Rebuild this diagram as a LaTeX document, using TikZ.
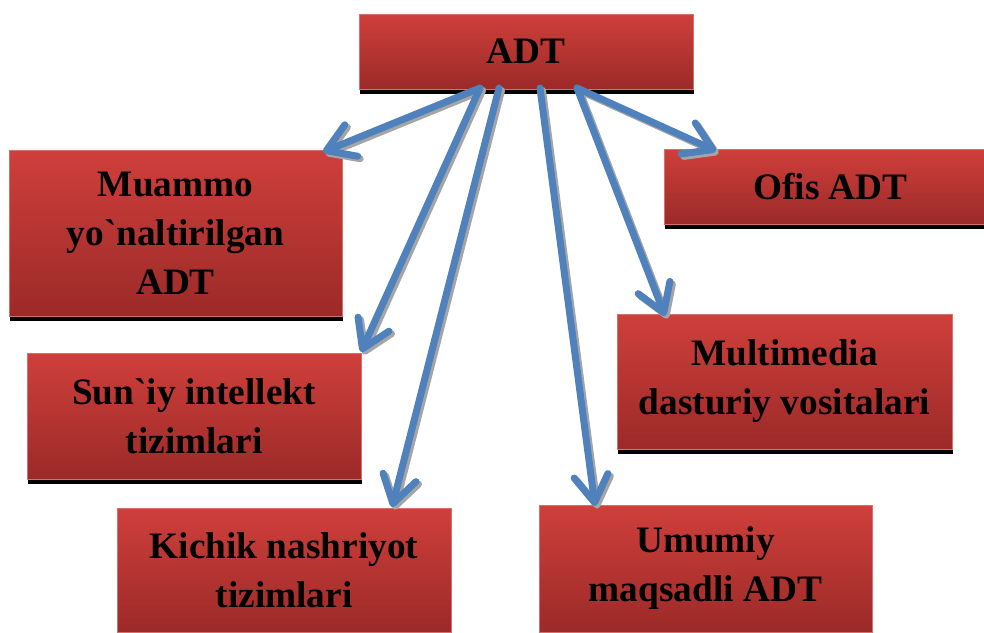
\documentclass[tikz,border=0pt]{standalone}
\usepackage{fontspec}
\setmainfont{Liberation Serif}[Ligatures=TeXOff]
\usetikzlibrary{arrows.meta,calc}
\definecolor{redtop}{RGB}{207,63,59}
\definecolor{redbot}{RGB}{155,42,40}
\definecolor{redline}{RGB}{214,112,108}
\definecolor{arrblue}{RGB}{79,129,189}
\definecolor{arrshadow}{RGB}{165,165,165}
\tikzset{
  box/.style={rectangle, top color=redtop, bottom color=redbot, draw=redline,
    line width=1pt, inner sep=0pt, align=center,
    font=\fontsize{37.3}{49}\selectfont\bfseries, text=black},
  conn/.style={draw=arrblue, line width=7pt, line cap=round, line join=round,
    -{Straight Barb[length=27pt,width=34pt,round]}},
  connshadow/.style={conn, draw=arrshadow, transform canvas={shift={(2.5pt,-2.5pt)}}}
}
\begin{document}
\begin{tikzpicture}[x=1pt,y=-1pt]
\useasboundingbox (0,0) rectangle (984,632);
\node[box, minimum width=334pt, minimum height=75pt] (adt) at (526,51.5) {ADT};
\node[box, minimum width=333pt, minimum height=166pt] (muammo) at (175.5,233) {Muammo\\yo`naltirilgan\\ADT};
\node[box, minimum width=333pt, minimum height=75pt] (ofis) at (830.5,186.5) {Ofis ADT};
\node[box, minimum width=334pt, minimum height=126pt] (suniy) at (194,416) {Sun`iy intellekt\\tizimlari};
\node[box, minimum width=335pt, minimum height=135pt] (multi) at (784.5,381.5) {Multimedia\\dasturiy vositalari};
\node[box, minimum width=334pt, minimum height=124pt] (kichik) at (284,570) {Kichik nashriyot\\tizimlari};
\node[box, minimum width=333pt, minimum height=127pt] (umumiy) at (705.5,568.5) {Umumiy\\maqsadli ADT};
\foreach \n in {adt,muammo,ofis,suniy,multi,kichik,umumiy}
  \fill[black] ($(\n.south west)+(1,0.5)$) rectangle ($(\n.south east)+(0,4.5)$);
\coordinate (s1) at (480,88);
\coordinate (s3) at (499,88);
\coordinate (s4) at (540,88);
\coordinate (s5) at (577,88);
\coordinate (t1) at (323,152);
\coordinate (t2) at (361,352);
\coordinate (t3) at (392,507);
\coordinate (t4) at (595,506);
\coordinate (t5) at (665,316);
\coordinate (t6) at (716,151);
\foreach \a/\b in {s1/t1,s1/t2,s3/t3,s4/t4,s5/t5,s5/t6}
  \draw[connshadow] (\a) -- (\b);
\foreach \a/\b in {s1/t1,s1/t2,s3/t3,s4/t4,s5/t5,s5/t6}
  \draw[conn] (\a) -- (\b);
\end{tikzpicture}
\end{document}
